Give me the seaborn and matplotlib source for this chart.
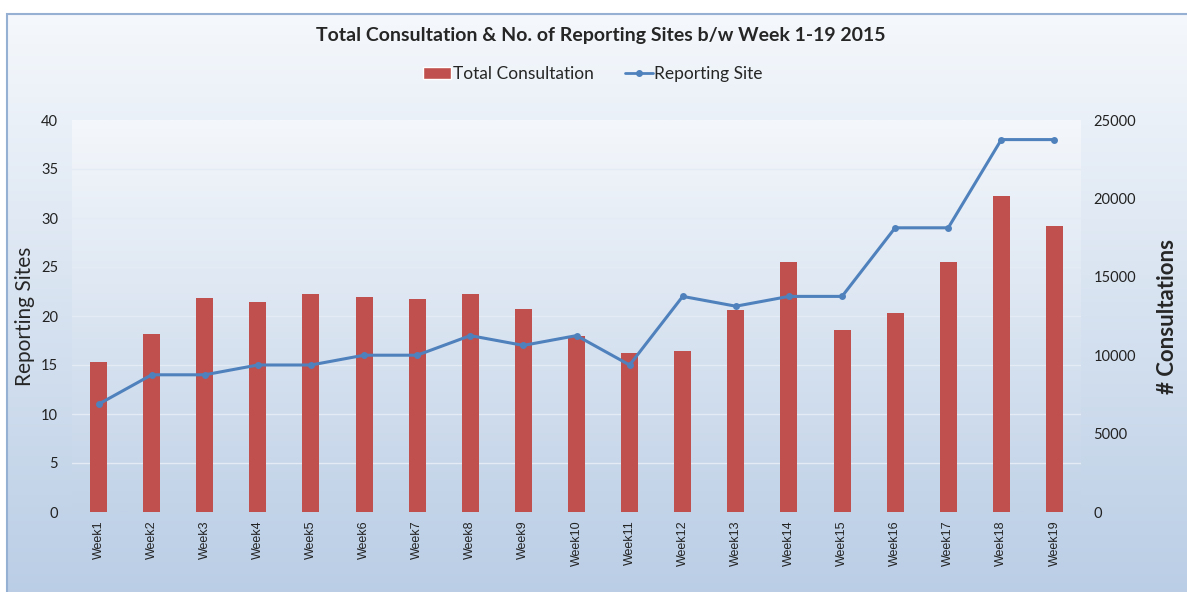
"""
Total consultations (bars, right axis) and number of reporting sites
(line, left axis) for weeks 1-19 of 2015.
"""

import matplotlib.pyplot as plt
import numpy as np
import pandas as pd
import seaborn as sns
from matplotlib.colors import LinearSegmentedColormap
from matplotlib.lines import Line2D
from matplotlib.patches import Patch, Rectangle
from matplotlib.ticker import MultipleLocator

WEEKS = [f"Week{i}" for i in range(1, 20)]
CONSULTATIONS = [9560, 11380, 13620, 13380, 13880, 13690, 13560, 13880, 12940,
                 11250, 10150, 10250, 12900, 15920, 11580, 12680, 15920,
                 20170, 18260]
REPORTING_SITES = [11, 14, 14, 15, 15, 16, 16, 18, 17, 18, 15, 22, 21, 22, 22,
                   29, 29, 38, 38]

BAR_COLOR = "#c0504d"
LINE_COLOR = "#4f81bd"
FONT = ["Lato", "DejaVu Sans"]

W, H = 1187, 592


def gradient_axes(fig, rect, top, bottom, zorder):
    bg = fig.add_axes(rect, zorder=zorder)
    cmap = LinearSegmentedColormap.from_list("bg", [top, bottom])
    bg.imshow(np.linspace(0, 1, 256)[:, None], aspect="auto", cmap=cmap,
              extent=[0, 1, 0, 1])
    bg.set_axis_off()
    return bg


def main() -> None:
    sns.set_theme(style="white")
    plt.rcParams["font.family"] = FONT

    df = pd.DataFrame({"week": WEEKS, "consultations": CONSULTATIONS,
                       "sites": REPORTING_SITES})

    fig = plt.figure(figsize=(W / 100, H / 100), dpi=100)
    fig.patch.set_facecolor("white")

    # chart area (runs off the right and bottom edges) + plot area
    chart_rect = [7 / W, -0.02, 1.05, 1 - 14 / H + 0.02]
    gradient_axes(fig, chart_rect, "#f5f8fc", "#b9cde5", -3)
    fig.patches.append(Rectangle((7 / W, -0.02), 1.05, 1 - 14 / H + 0.02,
                                 transform=fig.transFigure, fill=False,
                                 edgecolor="#95b0d3", linewidth=1.5,
                                 zorder=5))
    plot_rect = [72 / W, 1 - 512 / H, (1081 - 72) / W, (512 - 120) / H]
    gradient_axes(fig, plot_rect, "#f4f7fb", "#c2d3e8", -2)

    # bars on the main axes; line on a twin drawn above them
    ax = fig.add_axes(plot_rect)
    ax.set_facecolor("none")
    sns.barplot(data=df, x="week", y="consultations", color=BAR_COLOR,
                width=0.32, saturation=1, linewidth=0, ax=ax, zorder=3)
    ax2 = ax.twinx()
    sns.lineplot(data=df, x="week", y="sites", color=LINE_COLOR, linewidth=2.2,
                 marker="o", markersize=5, markeredgewidth=0, ax=ax2,
                 sort=False)

    # bar scale sits on the right
    ax.set_ylim(0, 25000)
    ax.yaxis.set_major_locator(MultipleLocator(5000))
    ax.yaxis.set_minor_locator(MultipleLocator(3125))
    ax.yaxis.tick_right()
    ax.yaxis.set_label_position("right")
    ax.grid(which="minor", axis="y", color="#e4ebf4", linewidth=1, zorder=0)
    ax.grid(which="major", axis="y", visible=False)
    ax.tick_params(axis="y", which="both", length=0, labelsize=10.5, pad=9,
                   labelcolor="#222222", left=False, labelleft=False,
                   right=True, labelright=True)
    ax.tick_params(axis="x", length=0, labelsize=9, labelrotation=90,
                   labelcolor="#222222", pad=6)
    for lbl in ax.get_xticklabels():
        lbl.set_fontfamily(["Liberation Sans", "DejaVu Sans"])
    ax.set_xlabel("")
    ax.set_ylabel("# Consultations", fontsize=16, fontweight="bold",
                  labelpad=15)
    for s in ax.spines.values():
        s.set_visible(False)

    # site scale sits on the left
    ax2.set_ylim(0, 40)
    ax2.yaxis.set_major_locator(MultipleLocator(5))
    ax2.yaxis.tick_left()
    ax2.yaxis.set_label_position("left")
    ax2.tick_params(axis="y", length=0, labelsize=10.5, pad=10,
                    labelcolor="#222222")
    ax2.set_ylabel("Reporting Sites", fontsize=15, labelpad=4)
    ax2.set_xlabel("")
    ax2.grid(False)
    for s in ax2.spines.values():
        s.set_visible(False)
    ax.set_xlim(-0.5, len(WEEKS) - 0.5)

    fig.text(601 / W, 1 - 35 / H, "Total Consultation & No. of Reporting "
             "Sites b/w Week 1-19 2015", ha="center", va="center",
             fontsize=14, fontweight="bold")

    handles = [Patch(facecolor=BAR_COLOR, label="Total Consultation"),
               Line2D([], [], color=LINE_COLOR, marker="o", markersize=4,
                      linewidth=2, label="Reporting Site")]
    fig.legend(handles=handles, loc="center", ncol=2, frameon=False,
               bbox_to_anchor=(593 / W, 1 - 74 / H), fontsize=12.5,
               handlelength=1.6, handletextpad=0.1, columnspacing=1.8)

    fig.savefig("out.png", dpi=100)
    plt.close(fig)


if __name__ == "__main__":
    main()
